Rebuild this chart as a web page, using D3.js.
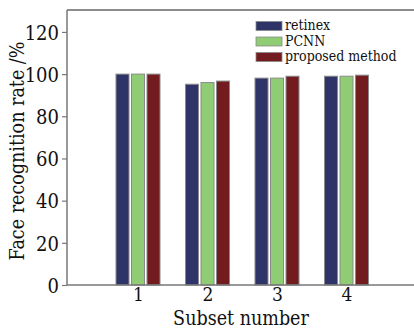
<html>
<script src='https://d3js.org/d3.v7.min.js'></script>
<style>
body {margin:0; background:#fff;}
text {font-family: 'DejaVu Serif', serif; fill:#111;}
</style>
<body onload='init()'>
<svg width=414 height=329></svg>
<script>
var subsets = ['1','2','3','4'];
var methods = ['retinex','PCNN','proposed method'];
var retinex = [100, 95.2, 98.1, 99.0];
var pcnn = [100, 96.0, 98.1, 99.0];
var proposed = [100, 96.7, 99.0, 99.5];
var yTicks = [0,20,40,60,80,100,120];
var colors = ['#2e3468','#8fcc74','#731c20'];

function init() {
	var series = [retinex, pcnn, proposed];
	var svg = d3.select('svg');
	var left = 67, right = 416, top = 10, bottom = 285;
	var serif = "'DejaVu Serif', serif";

	var x = d3.scaleLinear().domain([0,5]).range([left+1.5, right]);
	var y = d3.scaleLinear().domain([0,130.4]).range([bottom, top]);
	var bw = 13, gap = 2.5;

	// bars
	series.forEach(function(s, k) {
		svg.append('g').selectAll('rect')
			.data(s)
			.enter()
			.append('rect')
			.attr('x', function(d,i){ return x(i+1) + (k-1)*(bw+gap) - bw/2; })
			.attr('y', function(d){ return y(d); })
			.attr('width', bw)
			.attr('height', function(d){ return bottom - y(d); })
			.style('fill', colors[k])
			.style('stroke', '#8a8a8a')
			.style('stroke-width', 1);
	});

	// frame
	svg.append('line').attr('x1',left).attr('x2',414).attr('y1',top).attr('y2',top)
		.style('stroke','#666').style('stroke-width',1.3);

	var ya = svg.append('g').attr('transform','translate('+left+',0)')
		.call(d3.axisLeft(y).tickValues(yTicks).tickSize(5).tickPadding(3));
	ya.attr('font-family', serif);
	ya.select('.domain').attr('d','M0,'+top+'V'+bottom).style('stroke','#777').style('stroke-width',1.5);
	ya.selectAll('line').style('stroke','#777').style('stroke-width',1.2);
	ya.selectAll('text').style('font-size','20px').style('font-stretch','condensed').attr('dy','0.36em');

	var xa = svg.append('g').attr('transform','translate(0,'+bottom+')')
		.call(d3.axisBottom(x).tickValues([1,2,3,4]).tickFormat(function(d){ return subsets[d-1]; }).tickSize(0).tickPadding(2));
	xa.attr('font-family', serif);
	xa.select('.domain').attr('d','M'+left+',0H414').style('stroke','#777').style('stroke-width',1.5);
	xa.selectAll('text').style('font-size','19px').style('font-stretch','condensed');

	// axis titles
	svg.append('text').attr('x',241).attr('y',325).attr('text-anchor','middle')
		.style('font-size','19.5px').style('font-stretch','condensed').text('Subset number');
	svg.append('text').attr('transform','translate(24,151) rotate(-90)').attr('text-anchor','middle')
		.style('font-size','19.5px').style('font-stretch','condensed').text('Face recognition rate /%');

	// legend
	var lg = svg.append('g').attr('transform','translate(256,21.5)');
	methods.forEach(function(m,k){
		lg.append('rect').attr('x',0).attr('y',k*15.5).attr('width',26).attr('height',9)
			.style('fill',colors[k]).style('stroke','#8a8a8a').style('stroke-width',0.8);
		lg.append('text').attr('x',29).attr('y',k*15.5+8.5).style('font-size','14px').style('font-stretch','condensed').text(m);
	});
}
</script>
</body>
</html>
